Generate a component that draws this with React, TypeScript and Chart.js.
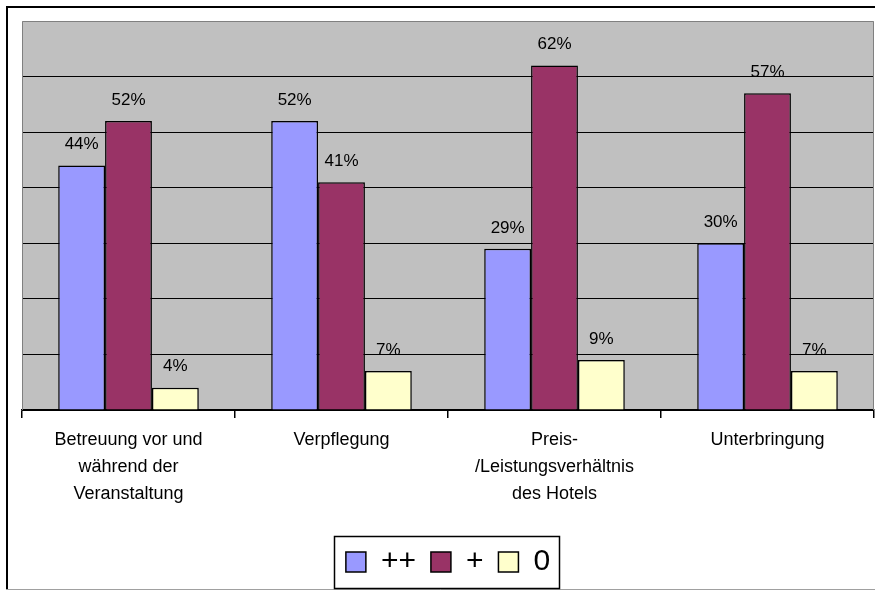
import React, { useEffect, useRef } from "react";
import { Chart, registerables } from "chart.js";

Chart.register(...registerables);

const categories: (string | string[])[] = [
  ["Betreuung vor und", "während der", "Veranstaltung"],
  "Verpflegung",
  ["Preis-", "/Leistungsverhältnis", "des Hotels"],
  "Unterbringung",
];
const seriesNames = ["++", "+", "0"];
const valuesPlusPlus = [44, 52, 29, 30];
const valuesPlus = [52, 41, 62, 57];
const valuesZero = [4, 7, 9, 7];
const seriesColors = ["#9999FF", "#993366", "#FFFFCC"];
const yMax = 70;
const yStep = 10;

const FONT = "'Liberation Sans', Arial, sans-serif";

const framePlugin = {
  id: "frame",
  beforeDraw(chart: any) {
    const { ctx, chartArea } = chart;
    ctx.save();
    ctx.fillStyle = "#FFFFFF";
    ctx.fillRect(0, 0, chart.width, chart.height);
    ctx.fillStyle = "#C0C0C0";
    ctx.fillRect(chartArea.left, chartArea.top, chartArea.right - chartArea.left, chartArea.bottom - chartArea.top);
    ctx.strokeStyle = "#000000";
    ctx.lineWidth = 2;
    ctx.beginPath();
    ctx.moveTo(7, 590);
    ctx.lineTo(7, 7);
    ctx.lineTo(chart.width + 2, 7);
    ctx.stroke();
    ctx.strokeStyle = "#A0A0A0";
    ctx.lineWidth = 1;
    ctx.beginPath();
    ctx.moveTo(6, 589.5);
    ctx.lineTo(chart.width, 589.5);
    ctx.stroke();
    ctx.restore();
  },
  beforeDatasetsDraw(chart: any) {
    const { ctx, chartArea } = chart;
    ctx.save();
    ctx.strokeStyle = "#808080";
    ctx.lineWidth = 1;
    ctx.beginPath();
    ctx.moveTo(chartArea.left + 0.5, chartArea.bottom);
    ctx.lineTo(chartArea.left + 0.5, chartArea.top + 0.5);
    ctx.lineTo(chartArea.right - 0.5, chartArea.top + 0.5);
    ctx.lineTo(chartArea.right - 0.5, chartArea.bottom);
    ctx.stroke();
    ctx.restore();
  },
  afterDatasetsDraw(chart: any) {
    const { ctx } = chart;
    ctx.save();
    ctx.font = `17px ${FONT}`;
    ctx.fillStyle = "#000000";
    ctx.textAlign = "center";
    ctx.textBaseline = "middle";
    chart.data.datasets.forEach((ds: any, i: number) => {
      const meta = chart.getDatasetMeta(i);
      meta.data.forEach((el: any, j: number) => {
        ctx.fillText(`${ds.data[j]}%`, el.x, el.y - 21);
      });
    });
    ctx.restore();
  },
  afterDraw(chart: any) {
    const legend = chart.legend;
    if (!legend || !legend.legendHitBoxes || !legend.legendHitBoxes.length) return;
    const boxes = legend.legendHitBoxes;
    const first = boxes[0];
    const last = boxes[boxes.length - 1];
    const cy = first.top + first.height / 2;
    const x0 = Math.round(first.left - 12) + 0.5;
    const x1 = Math.round(last.left + last.width + 9) + 0.5;
    const { ctx } = chart;
    ctx.save();
    ctx.strokeStyle = "#000000";
    ctx.lineWidth = 1.5;
    ctx.strokeRect(x0, Math.round(cy - 26) + 0.5, x1 - x0, 52);
    ctx.restore();
  },
};

export default function App() {
  const ref = useRef<HTMLCanvasElement | null>(null);
  useEffect(() => {
    if (!ref.current) return;
    const chart = new Chart(ref.current, {
      type: "bar",
      data: {
        labels: categories,
        datasets: [valuesPlusPlus, valuesPlus, valuesZero].map((d, i) => ({
          label: seriesNames[i],
          data: d,
          backgroundColor: seriesColors[i],
          borderColor: "#000000",
          borderWidth: 1.5,
          categoryPercentage: 0.66,
          barPercentage: 1,
        })),
      },
      options: {
        animation: false,
        responsive: false,
        maintainAspectRatio: false,
        layout: { padding: { left: 22, top: 21, right: 1, bottom: 4 } },
        plugins: {
          legend: {
            position: "bottom",
            labels: {
              boxWidth: 20,
              boxHeight: 20,
              padding: 15,
              color: "#000000",
              font: { family: FONT, size: 30 },
            },
          },
          tooltip: { enabled: false },
          title: { display: false },
        },
        scales: {
          x: {
            grid: {
              display: true,
              drawOnChartArea: false,
              drawTicks: true,
              tickLength: 8,
              color: "#000000",
              lineWidth: 1.5,
            },
            border: { display: true, color: "#000000", width: 1.5 },
            ticks: {
              color: "#000000",
              padding: 9,
              maxRotation: 0,
              autoSkip: false,
              font: { family: FONT, size: 18, lineHeight: 1.5 },
            },
            afterFit(scale: any) {
              scale.height = 122;
            },
          },
          y: {
            min: 0,
            max: yMax,
            ticks: { display: false, stepSize: yStep },
            border: { display: false },
            grid: {
              drawTicks: false,
              color: (c: any) => (c.tick && c.tick.value === yMax ? "rgba(0,0,0,0)" : "#000000"),
              lineWidth: 1,
            },
          },
        },
      },
      plugins: [framePlugin],
    });
    return () => chart.destroy();
  }, []);
  return (
    <div style={{ position: "fixed", left: 0, top: 0, width: 875, height: 591 }}>
      <canvas ref={ref} width={875} height={591} style={{ display: "block", width: 875, height: 591 }} />
    </div>
  );
}
